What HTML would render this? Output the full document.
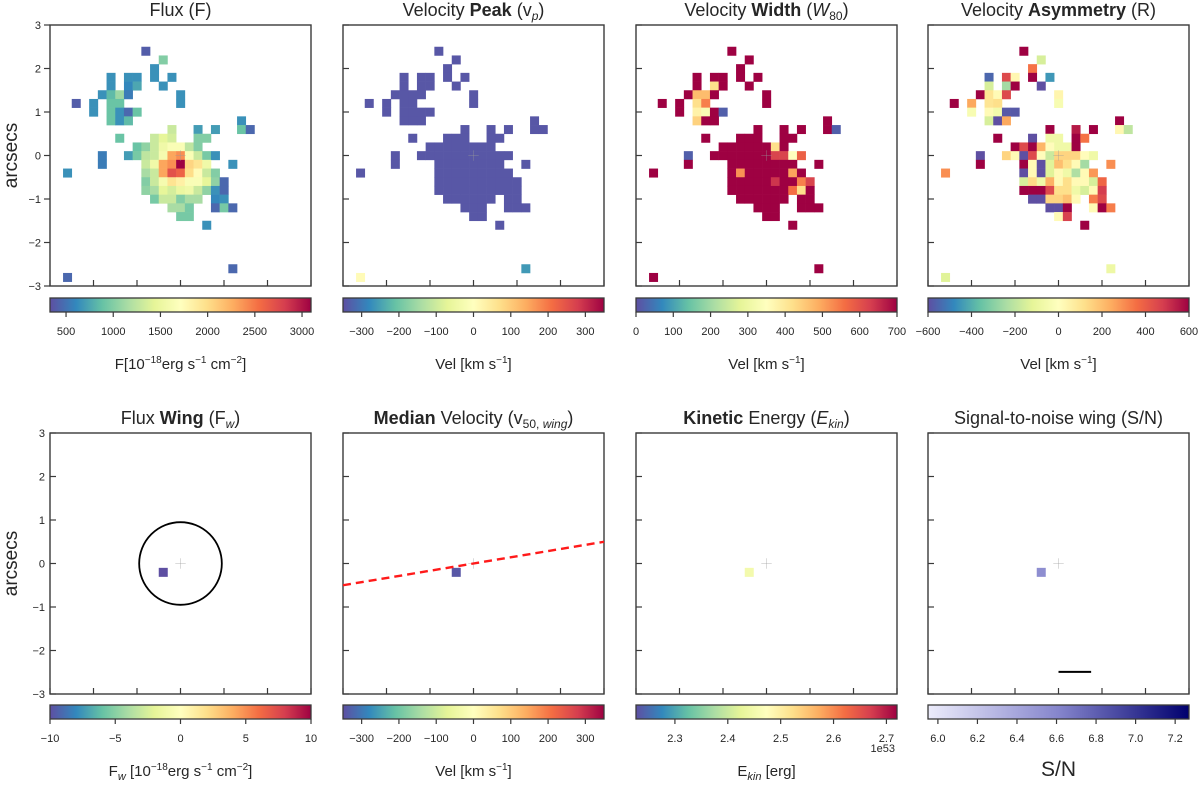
<!DOCTYPE html>
<html><head><meta charset="utf-8">
<style>
body{margin:0;background:#fff;font-family:"Liberation Sans","DejaVu Sans",sans-serif;}
svg text{font-family:"Liberation Sans","DejaVu Sans",sans-serif;fill:#262626;}
</style></head>
<body>
<svg id="fig" width="1200" height="781" viewBox="0 0 1200 781" xmlns="http://www.w3.org/2000/svg">
<defs>
<linearGradient id="gSpec" x1="0" x2="1" y1="0" y2="0">
<stop offset="0" stop-color="#5e4fa2"/><stop offset="0.1" stop-color="#3288bd"/><stop offset="0.2" stop-color="#66c2a5"/><stop offset="0.3" stop-color="#abdda4"/><stop offset="0.4" stop-color="#e6f598"/><stop offset="0.5" stop-color="#ffffbf"/><stop offset="0.6" stop-color="#fee08b"/><stop offset="0.7" stop-color="#fdae61"/><stop offset="0.8" stop-color="#f46d43"/><stop offset="0.9" stop-color="#d53e4f"/><stop offset="1" stop-color="#9e0142"/>
</linearGradient>
<linearGradient id="gSN" x1="0" x2="1" y1="0" y2="0">
<stop offset="0" stop-color="#ececfb"/><stop offset="0.5" stop-color="#8585cc"/><stop offset="1" stop-color="#00006e"/>
</linearGradient>
</defs>
</svg>
<script>
// ---- data ----
const fluxCells = [
[-4,12,400],[-2,11,1000],[-3,10,650],[-3,9,650],[-1,9,650],[-2,8,650],
[-8,9,650],[-8,8,650],[-6,9,650],[-5,9,650],[-6,8,600],[-5,8,750],
[-9,7,650],[-8,7,850],[-7,7,1100],[-6,7,550],
[-12,6,400],[-10,6,650],[-10,5,650],[-8,6,900],[-7,6,900],
[-8,5,900],[-7,5,650],[-6,5,450],[-5,5,900],
[-8,4,900],[-7,4,650],[-6,4,850],
[0,7,650],[0,6,650],[7,4,650],[7,3,900],[8,3,450],
[-1,3,1300],[2,3,700],[4,3,700],[-7,2,900],
[-3,2,1300],[-2,2,1450],[-1,2,1350],[2,2,1000],[3,2,1000],
[-5,1,900],[-4,1,1050],[-3,1,1300],[-2,1,1550],[-1,1,1650],[0,1,1650],[1,1,1250],[2,1,1000],
[-9,0,550],[-6,0,700],[-5,0,950],[-4,0,1250],[-3,0,1300],[-2,0,1600],[-1,0,2300],[0,0,2400],[1,0,1650],[2,0,1300],[3,0,950],[4,0,650],
[-9,-1,550],[-4,-1,1300],[-3,-1,1550],[-2,-1,2300],[-1,-1,2400],[0,-1,3100],[1,-1,2050],[2,-1,1950],[3,-1,1550],[6,-1,650],
[-13,-2,650],
[-4,-2,1150],[-3,-2,1300],[-2,-2,2300],[-1,-2,2700],[0,-2,2600],[1,-2,2000],[2,-2,1750],[3,-2,1300],[4,-2,1000],
[-4,-3,1000],[-3,-3,1300],[-2,-3,1600],[-1,-3,1950],[0,-3,1850],[1,-3,1650],[2,-3,1650],[3,-3,1450],[4,-3,1050],[5,-3,450],
[-4,-4,1050],[-3,-4,1150],[-2,-4,1450],[-1,-4,1350],[0,-4,1500],[1,-4,1550],[2,-4,1300],[3,-4,1050],[4,-4,650],[5,-4,450],
[-3,-5,950],[-2,-5,1300],[-1,-5,1300],[0,-5,1000],[1,-5,1150],[2,-5,1150],[4,-5,600],[5,-5,650],
[-1,-6,1150],[0,-6,1150],[1,-6,950],[4,-6,450],[5,-6,950],[6,-6,450],
[0,-7,950],[1,-7,950],[3,-8,650],[6,-13,450],[-13,-14,450]
];
const peakDefault = -340;
const peakOverride = [[-13,-14,10],[6,-13,-260]];
const widthDefault = 700;
const widthOverride = [[-6,8,420],[-8,7,470],[-7,7,470],[-8,6,420],[-7,6,540],[-8,5,380],[-7,5,330],[-5,5,20],[-8,4,440],[8,3,20],[-9,0,20],[1,1,420],[1,0,620],[2,0,620],[3,0,350],[4,0,580],[-3,-2,520],[3,-2,500],[1,-3,640],[4,-3,540],[5,-3,620],[3,-4,560],[4,-4,420]];
const asymCells = [
[-4,12,600],[-2,11,-150],[-3,10,350],[-3,9,600],[-1,9,-450],[-2,8,-600],
[-8,9,-550],[-6,9,450],[-5,9,30],[-8,8,-150],[-6,8,-250],[-5,8,600],
[-9,7,600],[-8,7,100],[-7,7,20],[-6,7,450],
[-12,6,600],[-10,6,250],[-8,6,100],[-7,6,120],
[-10,5,-40],[-8,5,20],[-7,5,-60],[-6,5,-580],[-5,5,-580],
[-8,4,-150],[-7,4,-600],[-6,4,250],
[0,7,40],[0,6,-40],[7,4,600],[7,3,30],[8,3,-200],
[-1,3,600],[2,3,550],[4,3,600],[-7,2,600],
[-3,2,-600],[-1,2,-70],[0,2,-70],[2,2,600],[3,2,350],
[-5,1,600],[-4,1,450],[-3,1,600],[-2,1,220],[-1,1,10],[0,1,-70],[1,1,-70],[2,1,600],
[-9,0,-600],[-6,0,150],[-5,0,20],[-4,0,-600],[-3,0,450],[-2,0,10],[-1,0,-180],[0,0,150],[1,0,150],[2,0,150],[3,0,10],[4,0,-70],
[-9,-1,600],[-4,-1,600],[-3,-1,20],[-2,-1,-600],[-1,-1,-130],[0,-1,200],[1,-1,120],[2,-1,20],[3,-1,-250],[6,-1,300],
[-13,-2,300],
[-4,-2,-600],[-3,-2,20],[-2,-2,-600],[-1,-2,-130],[0,-2,20],[1,-2,-70],[2,-2,-230],[3,-2,20],[4,-2,280],
[-4,-3,-150],[-3,-3,130],[-2,-3,-70],[-1,-3,230],[0,-3,20],[1,-3,120],[2,-3,20],[3,-3,20],[4,-3,-150],[5,-3,380],
[-4,-4,600],[-3,-4,600],[-2,-4,600],[-1,-4,450],[0,-4,120],[1,-4,120],[2,-4,-70],[3,-4,-150],[4,-4,20],[5,-4,480],
[-3,-5,-600],[-2,-5,-600],[-1,-5,150],[0,-5,150],[1,-5,200],[2,-5,20],[4,-5,330],[5,-5,450],
[-1,-6,-600],[0,-6,-600],[1,-6,600],[4,-6,20],[5,-6,600],[6,-6,330],
[0,-7,20],[1,-7,470],[3,-8,600],[6,-13,-80],[-13,-14,-130]
];
const wingCells = [[-2,-1,-10]];
const medianCells = [[-2,-1,-340]];
const ekinCells = [[-2,-1,2.45]];
const snCells = [[-2,-1,6.55]];
const medianLineX = [-3,3];
const medianLineY = [-0.5,0.5];
const wingCircleR = [0.95];
const scaleBarX = [0,0.75];
const scaleBarY = [-2.49];
const axisTicks = [-3,-2,-1,0,1,2,3];
const cbFluxTicks = [500,1000,1500,2000,2500,3000];
const cbPeakTicks = [-300,-200,-100,0,100,200,300];
const cbWidthTicks = [0,100,200,300,400,500,600,700];
const cbAsymTicks = [-600,-400,-200,0,200,400,600];
const cbWingTicks = [-10,-5,0,5,10];
const cbEkinTicks = [2.3,2.4,2.5,2.6,2.7];
const cbSNTicks = [6.0,6.2,6.4,6.6,6.8,7.0,7.2];

// ---- helpers ----
const NS="http://www.w3.org/2000/svg";
const svg=document.getElementById('fig');
function mk(tag,attrs,parent){const e=document.createElementNS(NS,tag);for(const k in attrs)e.setAttribute(k,attrs[k]);(parent||svg).appendChild(e);return e;}
const specStops=['#5e4fa2','#3288bd','#66c2a5','#abdda4','#e6f598','#ffffbf','#fee08b','#fdae61','#f46d43','#d53e4f','#9e0142'];
const snStops=['#ececfb','#8585cc','#00006e'];
function hex(h){return [parseInt(h.substr(1,2),16),parseInt(h.substr(3,2),16),parseInt(h.substr(5,2),16)];}
function cmap(stops,t){t=Math.max(0,Math.min(1,t));const n=stops.length-1;const k=Math.min(n-1,Math.floor(t*n));const f=t*n-k;const a=hex(stops[k]),b=hex(stops[k+1]);return 'rgb('+a.map((v,i)=>Math.round(v+(b[i]-v)*f)).join(',')+')';}
const W=261, S=W/6;
const lefts=[50,343,636,928], tops=[25,433];
function sx(L,x){return L+(x+3)*S;}
function sy(T,y){return T+(3-y)*S;}

function panel(col,row,title,cells,stops,vmin,vmax,name){
  const L=lefts[col],T=tops[row];
  const g=mk('g',{});
  
  
  const t=mk('text',{x:L+W/2,y:T-9,'text-anchor':'middle','font-size':'18'},g);
  t.innerHTML=title;
  
  
  cells.forEach(c=>{
    const r=mk('rect',{x:sx(L,c[0]*0.2-0.1),y:sy(T,c[1]*0.2+0.1),width:0.2*S+0.3,height:0.2*S+0.3,fill:cmap(stops,(c[2]-vmin)/(vmax-vmin))},g);
    
    
  });
  mk('line',{x1:sx(L,-0.12),x2:sx(L,0.12),y1:sy(T,0),y2:sy(T,0),stroke:'#999','stroke-width':0.6,opacity:0.6},g);
  mk('line',{x1:sx(L,0),x2:sx(L,0),y1:sy(T,-0.12),y2:sy(T,0.12),stroke:'#999','stroke-width':0.6,opacity:0.6},g);
  const fr=mk('rect',{x:L,y:T,width:W,height:W,fill:'none',stroke:'#3a3a3a','stroke-width':1.4},g);
  
  
  const outside=(col===0&&row===0);
  axisTicks.forEach(v=>{
    const y=sy(T,v),x=sx(L,v);
    if(outside) mk('line',{x1:L-6,x2:L,y1:y,y2:y,stroke:'#3a3a3a','stroke-width':1.2},g);
    else mk('line',{x1:L,x2:L+6,y1:y,y2:y,stroke:'#3a3a3a','stroke-width':1.2},g);
    mk('line',{x1:x,x2:x,y1:T+W,y2:T+W-6,stroke:'#3a3a3a','stroke-width':1.2},g);
    if(col===0){const tl=mk('text',{x:L-(outside?9:5),y:y+4,'text-anchor':'end','font-size':'11'},g);tl.textContent=(v<0?'\u2212':'')+Math.abs(v);
      }
  });
  if(col===0){const a=mk('text',{x:0,y:0,'text-anchor':'middle','font-size':'19',transform:'translate(17,'+(T+W/2)+') rotate(-90)'},g);a.textContent='arcsecs';
    }
  return {L,T,g};
}
function colorbar(col,row,grad,vmin,vmax,ticks,fmt,label,name,lsize){
  const L=lefts[col],Y=row===0?298:705;
  const g=mk('g',{});
  
  
  mk('rect',{x:L,y:Y,width:W,height:14,fill:'url(#'+grad+')',stroke:'#3a3a3a','stroke-width':1.3},g);
  ticks.forEach(v=>{const x=L+(v-vmin)/(vmax-vmin)*W;
    mk('line',{x1:x,x2:x,y1:Y+14,y2:Y+19,stroke:'#3a3a3a','stroke-width':1.2},g);
    const t=mk('text',{x:x,y:Y+37,'text-anchor':'middle','font-size':'11'},g);t.textContent=fmt(v);
    });
  const lb=mk('text',{x:L+W/2,y:Y+71,'text-anchor':'middle','font-size':lsize||15},g);lb.innerHTML=label;
  
  return g;
}
const neg=v=>(v<0?'\u2212':'')+Math.abs(v);
const velLbl='Vel [km s'+'<tspan dy="-6" font-size="10">\u22121</tspan><tspan dy="6">]</tspan>';

panel(0,0,'Flux (F)',fluxCells,specStops,330,3095,'flux');
colorbar(0,0,'gSpec',330,3095,cbFluxTicks,v=>v,'F[10<tspan dy="-6" font-size="10">\u221218</tspan><tspan dy="6">erg s</tspan><tspan dy="-6" font-size="10">\u22121</tspan><tspan dy="6"> cm</tspan><tspan dy="-6" font-size="10">\u22122</tspan><tspan dy="6">]</tspan>','flux');

const peakCells=fluxCells.map(c=>{const o=peakOverride.find(p=>p[0]===c[0]&&p[1]===c[1]);return [c[0],c[1],o?o[2]:peakDefault];});
panel(1,0,'Velocity <tspan font-weight="bold">Peak</tspan> (v<tspan dy="4" font-size="12" font-style="italic">p</tspan><tspan dy="-4">)</tspan>',peakCells,specStops,-350,350,'peak');
colorbar(1,0,'gSpec',-350,350,cbPeakTicks,neg,velLbl,'peak');

const widthCells=fluxCells.map(c=>{const o=widthOverride.find(p=>p[0]===c[0]&&p[1]===c[1]);return [c[0],c[1],o?o[2]:widthDefault];});
panel(2,0,'Velocity <tspan font-weight="bold">Width</tspan> (<tspan font-style="italic">W</tspan><tspan dy="4" font-size="12">80</tspan><tspan dy="-4">)</tspan>',widthCells,specStops,0,700,'width');
colorbar(2,0,'gSpec',0,700,cbWidthTicks,v=>v,velLbl,'width');

panel(3,0,'Velocity <tspan font-weight="bold">Asymmetry</tspan> (R)',asymCells,specStops,-600,600,'asymmetry');
colorbar(3,0,'gSpec',-600,600,cbAsymTicks,neg,velLbl,'asymmetry');

const pw=panel(0,1,'Flux <tspan font-weight="bold">Wing</tspan> (F<tspan dy="4" font-size="12" font-style="italic">w</tspan><tspan dy="-4">)</tspan>',wingCells,specStops,-10,10,'flux-wing');
const circ=mk('circle',{cx:sx(pw.L,0),cy:sy(pw.T,0),r:wingCircleR[0]*S,fill:'none',stroke:'#000','stroke-width':1.8},pw.g);


colorbar(0,1,'gSpec',-10,10,cbWingTicks,neg,'F<tspan dy="4" font-size="11" font-style="italic">w</tspan><tspan dy="-4"> [10</tspan><tspan dy="-6" font-size="10">\u221218</tspan><tspan dy="6">erg s</tspan><tspan dy="-6" font-size="10">\u22121</tspan><tspan dy="6"> cm</tspan><tspan dy="-6" font-size="10">\u22122</tspan><tspan dy="6">]</tspan>','flux-wing');

const pm=panel(1,1,'<tspan font-weight="bold">Median</tspan> Velocity (v<tspan dy="4" font-size="12">50, <tspan font-style="italic">wing</tspan></tspan><tspan dy="-4">)</tspan>',medianCells,specStops,-350,350,'median-velocity');
const ln=mk('line',{x1:sx(pm.L,medianLineX[0]),x2:sx(pm.L,medianLineX[1]),y1:sy(pm.T,medianLineY[0]),y2:sy(pm.T,medianLineY[1]),stroke:'#ff1a1a','stroke-width':2.4,'stroke-dasharray':'8,5'},pm.g);


colorbar(1,1,'gSpec',-350,350,cbPeakTicks,neg,velLbl,'median-velocity');

panel(2,1,'<tspan font-weight="bold">Kinetic</tspan> Energy (<tspan font-style="italic">E</tspan><tspan dy="4" font-size="12" font-style="italic">kin</tspan><tspan dy="-4">)</tspan>',ekinCells,specStops,2.2264,2.72,'kinetic-energy');
const cbE=colorbar(2,1,'gSpec',2.2264,2.72,cbEkinTicks,v=>v.toFixed(1),'E<tspan dy="4" font-size="11" font-style="italic">kin</tspan><tspan dy="-4"> [erg]</tspan>','kinetic-energy');
const off=mk('text',{x:lefts[2]+W-2,y:752,'text-anchor':'end','font-size':'11'},cbE);off.textContent='1e53';



const ps=panel(3,1,'Signal-to-noise wing (S/N)',snCells,snStops,5.95,7.27,'signal-to-noise');
const sb=mk('line',{x1:sx(ps.L,scaleBarX[0]),x2:sx(ps.L,scaleBarX[1]),y1:sy(ps.T,scaleBarY[0]),y2:sy(ps.T,scaleBarY[0]),stroke:'#000','stroke-width':2},ps.g);


colorbar(3,1,'gSN',5.95,7.27,cbSNTicks,v=>v.toFixed(1),'S/N','signal-to-noise',21);
</script>
</body></html>
